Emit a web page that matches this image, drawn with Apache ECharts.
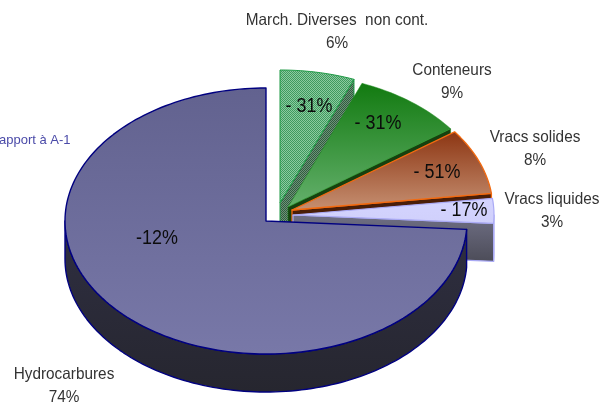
<!DOCTYPE html>
<html><head><meta charset="utf-8">
<style>html,body{margin:0;padding:0;background:#fff}#c{width:600px;height:405px}</style>
<script src="https://cdn.jsdelivr.net/npm/echarts@6/dist/echarts.min.js"></script>
</head><body><div id="c"></div>
<script>
// Data
const categories = ['March. Diverses  non cont.', 'Conteneurs', 'Vracs solides', 'Vracs liquides', 'Hydrocarbures'];
const shares = [6, 9, 8, 3, 74];
const changes = ['- 31%', '- 31%', '- 51%', '- 17%', '-12%'];
const note = 'apport à A-1';

// Layout and style (not data)
const RX = 201, RY = 133, DEPTH = 38;
const apexes = [[280,203],[288,207],[292,210],[293,215],[266,221]];
const namePos = [[337,32],[452,82],[535,149],[552,211],[64,386]];
const changePos = [[309,107],[378,124],[437,173],[464,211],[157,239]];

function pattern(a, b) {
  const c = document.createElement('canvas'); c.width = 2; c.height = 2;
  const g = c.getContext('2d');
  g.fillStyle = a; g.fillRect(0,0,2,2);
  g.fillStyle = b; g.fillRect(0,0,1,1); g.fillRect(1,1,1,1);
  return {image: c, repeat: 'repeat'};
}
const grad = (a, b) => ({type:'linear', x:0, y:0, x2:0, y2:1, colorStops:[{offset:0,color:a},{offset:1,color:b}]});
const styles = [
  {top: pattern('#8ccb9f','#3f9a5f'), side: pattern('#6f8f78','#2f5f3f'), edge:'#1f9a45', w:1},
  {top: grad('#127a10','#64b06c'), side:'#17400f', edge:'#1a8a1a', w:0.5},
  {top: grad('#8c3512','#c69072'), side:'#4a1e08', edge:'#f26a10', w:1.3},
  {top: grad('#d4d4ff','#d0d0fb'), side: grad('#6f6f85','#4c4c58'), edge:'#aaaaf5', w:1.2},
  {top: grad('#62628f','#7878a8'), side: grad('#2f2f42','#26262f'), edge:'#000080', w:1.4}
];

const RAD = Math.PI / 180;
const total = shares.reduce((a,b)=>a+b,0);
function pt(ap, t, dz) { return [ap[0] + RX*Math.sin(t*RAD), ap[1] - RY*Math.cos(t*RAD) + (dz||0)]; }
function arc(ap, t0, t1, dz) {
  const n = Math.max(2, Math.ceil(Math.abs(t1-t0)/1.5)), out = [];
  for (let k=0;k<=n;k++) out.push(pt(ap, t0+(t1-t0)*k/n, dz));
  return out;
}
function renderSlice(params, api) {
  const i = params.dataIndex;
  let t0 = 0;
  for (let k=0;k<i;k++) t0 += shares[k]/total*360;
  const t1 = t0 + api.value(0)/total*360;
  const ap = apexes[i], st = styles[i], children = [];
  const poly = (points, fill) => ({type:'polygon', shape:{points}, style:{fill, stroke:st.edge, lineWidth:st.w, lineJoin:'round'}});
  if (i < 4) {
    const e = pt(ap, t1);
    children.push(poly([ap, e, [e[0],e[1]+DEPTH], [ap[0],ap[1]+DEPTH]], st.side));
  }
  const a0 = Math.max(t0, 90), a1 = Math.min(t1, 270);
  if (a1 > a0) children.push(poly(arc(ap,a0,a1,0).concat(arc(ap,a1,a0,DEPTH)), st.side));
  children.push(poly([ap].concat(arc(ap,t0,t1,0)), st.top));
  return {type:'group', children};
}
const font = 'Liberation Sans, Arial, sans-serif';
function labels() {
  const out = [];
  categories.forEach((c,i)=>{
    out.push({type:'text', x:namePos[i][0], y:namePos[i][1], z:10, scaleX:0.93, style:{text:c+'\n'+shares[i]+'%', fill:'#333', font:'16.5px '+font, lineHeight:23, align:'center', verticalAlign:'middle'}});
    out.push({type:'text', x:changePos[i][0], y:changePos[i][1], z:10, scaleX:0.92, style:{text:changes[i], fill:'#0c0c0c', font:'19.5px '+font, align:'center', verticalAlign:'middle'}});
  });
  out.push({type:'text', x:-1, y:140, z:10, style:{text:note, fill:'#4a4aa8', font:'13px '+font, align:'left', verticalAlign:'middle'}});
  return out;
}
const chart = echarts.init(document.getElementById('c'));
chart.setOption({
  animation:false,
  backgroundColor:'#fff',
  graphic: labels(),
  series:[{type:'custom', coordinateSystem:'none', renderItem:renderSlice, silent:true,
    data: shares.map((v,i)=>({name:categories[i], value:[v]}))}]
});
</script></body></html>
